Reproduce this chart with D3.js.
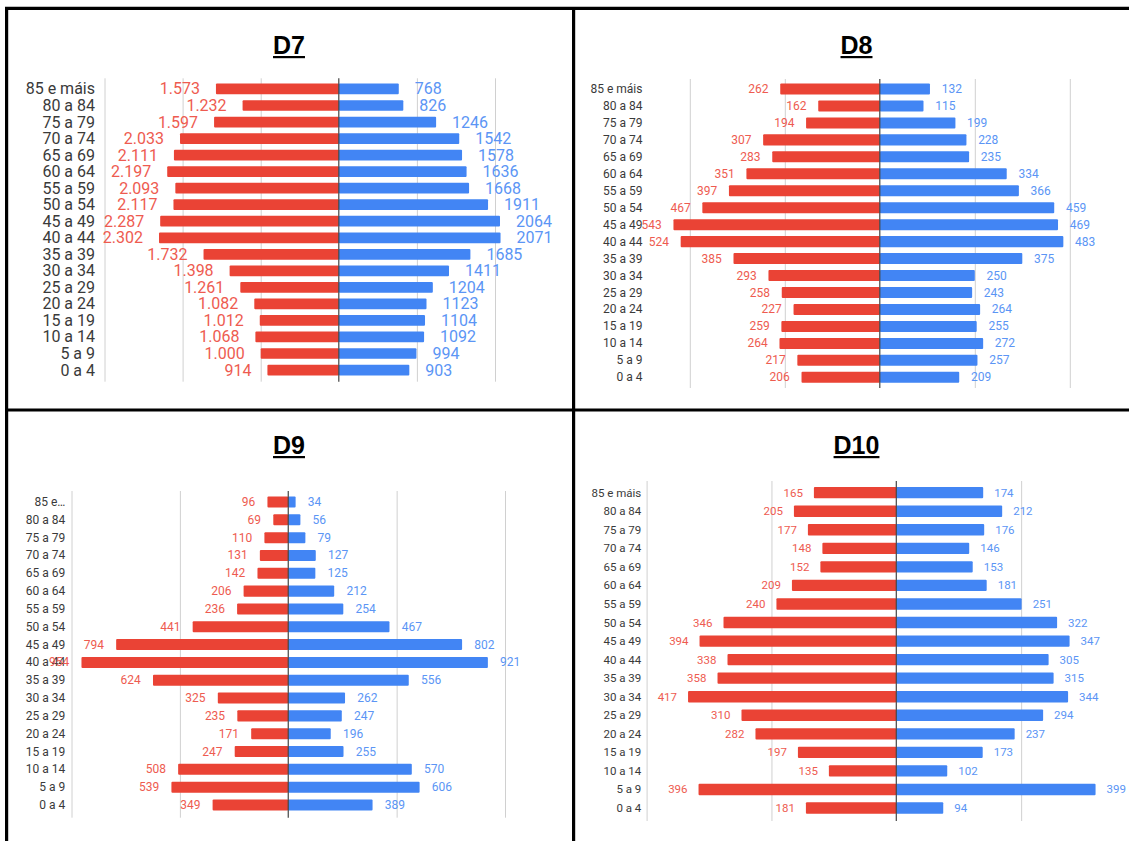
<!DOCTYPE html>
<html>
<head>
<meta charset="utf-8">
<script src="https://cdn.jsdelivr.net/npm/d3@7"></script>
<style>
  html, body { margin: 0; padding: 0; background: #fff; }
  svg { display: block; }
</style>
</head>
<body>
<svg id="chart" width="1129" height="841"></svg>
<script>
// ---------- DATA ----------
const categories = ["85 e máis","80 a 84","75 a 79","70 a 74","65 a 69","60 a 64","55 a 59","50 a 54","45 a 49","40 a 44","35 a 39","30 a 34","25 a 29","20 a 24","15 a 19","10 a 14","5 a 9","0 a 4"];
const categoriesD9 = ["85 e…","80 a 84","75 a 79","70 a 74","65 a 69","60 a 64","55 a 59","50 a 54","45 a 49","40 a 44","35 a 39","30 a 34","25 a 29","20 a 24","15 a 19","10 a 14","5 a 9","0 a 4"];

const d7Red  = [1573,1232,1597,2033,2111,2197,2093,2117,2287,2302,1732,1398,1261,1082,1012,1068,1000,914];
const d7Blue = [768,826,1246,1542,1578,1636,1668,1911,2064,2071,1685,1411,1204,1123,1104,1092,994,903];

const d8Red  = [262,162,194,307,283,351,397,467,543,524,385,293,258,227,259,264,217,206];
const d8Blue = [132,115,199,228,235,334,366,459,469,483,375,250,243,264,255,272,257,209];

const d9Red  = [96,69,110,131,142,206,236,441,794,954,624,325,235,171,247,508,539,349];
const d9Blue = [34,56,79,127,125,212,254,467,802,921,556,262,247,196,255,570,606,389];

const d10Red  = [165,205,177,148,152,209,240,346,394,338,358,417,310,282,197,135,396,181];
const d10Blue = [174,212,176,146,153,181,251,322,347,305,315,344,294,237,173,102,399,94];

const d7Ticks  = [-3000,-2000,-1000,0,1000,2000];
const d8Ticks  = [-500,-250,0,250,500];
const d9Ticks  = [-1000,-500,0,500,1000];
const d10Ticks = [-500,-250,0,250,500];

const titles = ["D7","D8","D9","D10"];

// ---------- STYLE / LAYOUT ----------
const RED_BAR = "#EA4335", BLUE_BAR = "#4285F4";
const RED_TXT = "#EE5B50", BLUE_TXT = "#5B95F5";
const FONT = "Roboto, 'Noto Sans', Arial, sans-serif";

const ptFmt = d3.formatLocale({decimal: ",", thousands: ".", grouping: [3], currency: ["", ""]}).format(",d");
const plainFmt = d3.format("d");

const panels = [
  { title: titles[0], cats: categories, red: d7Red, blue: d7Blue, ticks: d7Ticks,
    domain: [-3000, 2000], xr: [104.5, 495], yr: [80.7, 378.3], gTop: 78.3, gBot: 381.7,
    labelRight: 95, fs: 16, gap: 16, pad: 0.35, titleX: 289, titleY: 45, redFmt: ptFmt },
  { title: titles[1], cats: categories, red: d8Red, blue: d8Blue, ticks: d8Ticks,
    domain: [-500, 500], xr: [689.8, 1069.8], yr: [80.5, 385.8], gTop: 79, gBot: 388,
    labelRight: 642.4, fs: 12, gap: 11.7, pad: 0.35, titleX: 856.5, titleY: 45, redFmt: plainFmt },
  { title: titles[2], cats: categoriesD9, red: d9Red, blue: d9Blue, ticks: d9Ticks,
    domain: [-1000, 1000], xr: [71.5, 505], yr: [493.1, 813.9], gTop: 491, gBot: 817.7,
    labelRight: 65.3, fs: 12, gap: 12.2, pad: 0.38, titleX: 289, titleY: 445, redFmt: plainFmt },
  { title: titles[3], cats: categories, red: d10Red, blue: d10Blue, ticks: d10Ticks,
    domain: [-500, 500], xr: [646.6, 1146], yr: [483.4, 817.3], gTop: 481, gBot: 821,
    labelRight: 641.3, fs: 11.5, gap: 11, pad: 0.39, titleX: 856.5, titleY: 445, redFmt: plainFmt }
];

const svg = d3.select("#chart");
svg.append("rect").attr("width", 1129).attr("height", 841).attr("fill", "#fff");

panels.forEach(p => {
  const g = svg.append("g");
  const x = d3.scaleLinear().domain(p.domain).range(p.xr);
  const y = d3.scaleBand().domain(p.cats).range(p.yr).paddingInner(p.pad).paddingOuter(p.pad / 2);
  const cx = x(0);

  // gridlines via axis
  const grid = g.append("g").attr("transform", `translate(0,${p.gBot})`)
    .call(d3.axisBottom(x).tickValues(p.ticks.filter(t => t !== 0)).tickSize(-(p.gBot - p.gTop)).tickFormat(""));
  grid.select(".domain").remove();
  grid.selectAll(".tick line").attr("stroke", "#d0d0d0").attr("stroke-width", 1);

  const rows = p.cats.map((c, i) => ({c, r: p.red[i], b: p.blue[i]}));

  // bars
  g.selectAll(".rb").data(rows).join("rect")
    .attr("x", d => x(-d.r)).attr("width", d => cx - x(-d.r))
    .attr("y", d => y(d.c)).attr("height", y.bandwidth())
    .attr("fill", RED_BAR).attr("rx", 1);
  g.selectAll(".bb").data(rows).join("rect")
    .attr("x", cx).attr("width", d => x(d.b) - cx)
    .attr("y", d => y(d.c)).attr("height", y.bandwidth())
    .attr("fill", BLUE_BAR).attr("rx", 1);

  // center axis line
  g.append("line").attr("x1", cx).attr("x2", cx).attr("y1", p.gTop).attr("y2", p.gBot)
    .attr("stroke", "#444").attr("stroke-width", 1.2);

  // category labels via axis
  const ax = g.append("g").attr("transform", `translate(${p.labelRight},0)`)
    .call(d3.axisLeft(y).tickSize(0).tickPadding(0));
  ax.select(".domain").remove();
  ax.selectAll("text").attr("font-family", FONT).attr("font-size", p.fs).attr("fill", "#3a3a3a")
    .attr("dy", null).attr("dominant-baseline", "central");

  // value labels
  g.selectAll(".rl").data(rows).join("text")
    .attr("x", d => x(-d.r) - p.gap).attr("y", d => y(d.c) + y.bandwidth() / 2)
    .attr("text-anchor", "end").attr("dominant-baseline", "central")
    .attr("font-family", FONT).attr("font-size", p.fs).attr("fill", RED_TXT)
    .text(d => p.redFmt(d.r));
  g.selectAll(".bl").data(rows).join("text")
    .attr("x", d => x(d.b) + p.gap).attr("y", d => y(d.c) + y.bandwidth() / 2)
    .attr("text-anchor", "start").attr("dominant-baseline", "central")
    .attr("font-family", FONT).attr("font-size", p.fs).attr("fill", BLUE_TXT)
    .text(d => plainFmt(d.b));

  // title with underline
  const t = g.append("text").attr("x", p.titleX).attr("y", p.titleY)
    .attr("text-anchor", "middle").attr("dominant-baseline", "central")
    .attr("font-family", "'Liberation Sans', Arial, sans-serif").attr("font-weight", "bold")
    .attr("font-size", 25).attr("fill", "#000").text(p.title);
  const w = t.node().getComputedTextLength();
  g.append("rect").attr("x", p.titleX - w / 2).attr("y", p.titleY + 11).attr("width", w).attr("height", 2.2).attr("fill", "#000");
});

// panel borders
const border = svg.append("g").attr("stroke", "#000").attr("stroke-width", 3.2);
border.append("line").attr("x1", 5).attr("x2", 1129).attr("y1", 8.4).attr("y2", 8.4);
border.append("line").attr("x1", 6.6).attr("x2", 6.6).attr("y1", 7).attr("y2", 841);
border.append("line").attr("x1", 573.6).attr("x2", 573.6).attr("y1", 7).attr("y2", 841);
border.append("line").attr("x1", 5).attr("x2", 1129).attr("y1", 410).attr("y2", 410);
</script>
</body>
</html>
